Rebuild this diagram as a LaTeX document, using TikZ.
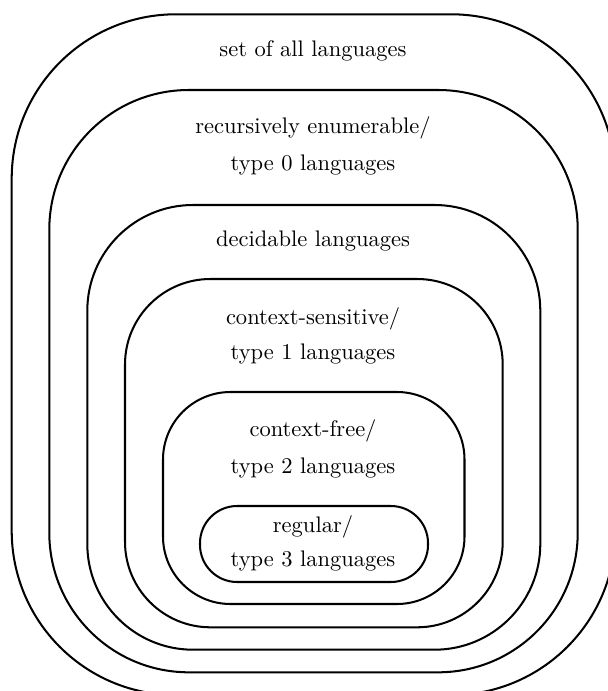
\documentclass[tikz,border=0pt]{standalone}
\usepackage{tikz}
\begin{document}
\begin{tikzpicture}[x=0.4444pt, y=-0.4444pt,
    langset/.style={line width=0.9pt},
    langlabel/.style={anchor=base, inner sep=0pt}]
    \useasboundingbox (0,0) rectangle (608,691);
    \def\setall{(11.7,14.3) rectangle (615.4,695)}
    \def\setre{(49.3,90) rectangle (577.7,672.3)}
    \def\setdec{(87.3,205) rectangle (540.3,649.7)}
    \def\setcs{(125,279) rectangle (502.7,627.3)}
    \def\setcf{(163,392) rectangle (464.5,604)}
    \def\setreg{(200,506) rectangle (428,582)}
    \draw[langset, rounded corners=73pt]\setall;
    \node[langlabel] (all) at (313,57) {set of all languages};
    \draw[langset, rounded corners=62pt]\setre;
    \node[langlabel] (re1) at (313,133.3) {recursively enumerable/};
    \node[langlabel] (re2) at (313,170.7) {type 0 languages};
    \draw[langset, rounded corners=47pt]\setdec;
    \node[langlabel] (dec) at (313,246.7) {decidable languages};
    \draw[langset, rounded corners=38pt]\setcs;
    \node[langlabel] (cs1) at (313,324) {context-sensitive/};
    \node[langlabel] (cs2) at (313,359.3) {type 1 languages};
    \draw[langset, rounded corners=30pt]\setcf;
    \node[langlabel] (cf1) at (313,436.7) {context-free/};
    \node[langlabel] (cf2) at (313,473.3) {type 2 languages};
    \draw[langset, rounded corners=16.5pt]\setreg;
    \node[langlabel] (reg1) at (313,532.7) {regular/};
    \node[langlabel] (reg2) at (313,566.7) {type 3 languages};
\end{tikzpicture}
\end{document}
